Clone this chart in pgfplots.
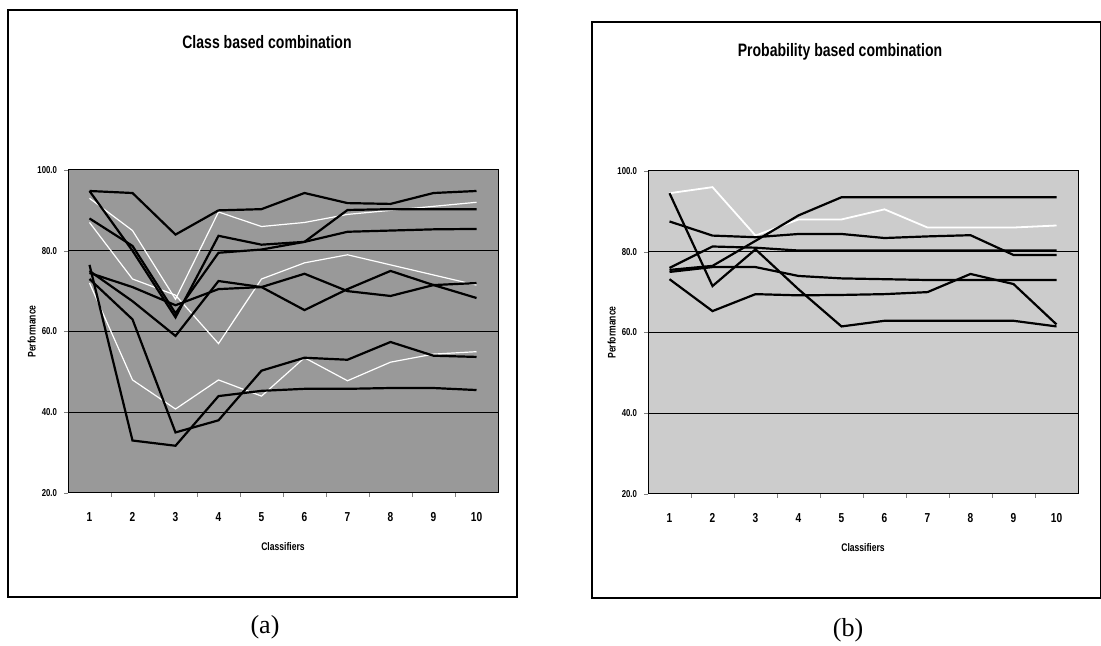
\documentclass[border=0pt]{standalone}
\usepackage{pgfplots}
\pgfplotsset{compat=1.18}
\usepackage{fontspec}
\setmainfont{Liberation Sans}
\newfontfamily\narrow[FakeStretch=0.78]{Liberation Sans}
\newfontfamily\serif{Liberation Serif}

% class based combination (a)
\pgfplotstableread{
x  A    B    C    D    E    X    Y    W1   W2   W3
1  94.8 94.8 88.0 76.5 73.0 74.5 75.0 93.0 87.0 72.0
2  94.3 80.0 81.2 33.0 63.0 71.0 67.5 85.0 73.0 48.0
3  84.0 63.5 64.5 31.7 35.0 66.5 58.9 68.0 69.0 40.8
4  90.0 83.7 79.5 44.0 38.0 70.5 72.5 89.6 57.0 48.0
5  90.3 81.5 80.3 45.3 50.3 71.0 71.0 86.0 73.0 44.0
6  94.3 82.2 82.2 45.8 53.5 74.3 65.3 87.0 77.0 53.5
7  91.8 90.1 84.7 45.8 53.0 70.0 70.5 89.0 79.0 47.8
8  91.6 90.3 85.0 46.0 57.4 68.8 75.0 90.0 76.5 52.4
9  94.3 90.3 85.3 46.0 54.0 71.5 71.5 91.0 74.0 54.4
10 94.8 90.3 85.4 45.5 53.7 72.0 68.3 92.0 71.5 55.0
}\classdata

% probability based combination (b)
\pgfplotstableread{
x  R1   R2   R3   R4   R5   R6   R7
1  94.5 73.2 75.0 87.5 75.5 76.0 94.5
2  71.5 65.3 76.2 84.0 76.5 81.3 96.0
3  80.6 69.5 76.2 83.6 82.7 81.0 84.0
4  70.7 69.2 74.0 84.4 89.0 80.3 88.0
5  61.5 69.3 73.4 84.4 93.5 80.3 88.0
6  62.9 69.5 73.2 83.4 93.5 80.3 90.5
7  62.9 70.0 73.0 83.8 93.5 80.3 86.0
8  62.9 74.5 73.0 84.1 93.5 80.3 86.0
9  62.9 72.0 73.0 79.2 93.5 80.3 86.0
10 61.5 62.0 73.0 79.2 93.5 80.3 86.5
}\probdata

\pgfplotsset{
  panel/.style={
    anchor=south west, scale only axis,
    width=215pt, height=161.5pt,
    xmin=0.5, xmax=10.5, ymin=20, ymax=100,
    xtick={1,...,10},
    minor xtick={1.5,2.5,...,9.5},
    ytick={20,40,...,100},
    tick align=outside, tick pos=left,
    major x tick style={draw=none},
    minor tick length=2pt, major tick length=2pt,
    ymajorgrids, grid style={black, line width=0.5pt},
    axis line style={black, line width=0.5pt},
    /pgf/number format/assume math mode=true,
    yticklabel style={/pgf/number format/.cd, fixed, fixed zerofill, precision=1},
    tick label style={font=\narrow\bfseries\fontsize{5}{6}\selectfont},
    xticklabel style={font=\narrow\bfseries\fontsize{6.5}{7}\selectfont, yshift=-4pt},
    ylabel={Performance}, xlabel={Classifiers},
    label style={font=\narrow\bfseries\fontsize{5.5}{6}\selectfont},
    xlabel style={yshift=-4pt},
    ylabel style={yshift=-6pt},
    blk/.style={black, line width=1.1pt},
    wht/.style={white, line width=0.6pt},
  },
}

\begin{document}
\begin{tikzpicture}
\useasboundingbox (0,0) rectangle (550.5pt,323pt);
\fill[white] (0,0) rectangle (550.5pt,323pt);
\begin{scope}[x=0.5pt, y=-0.5pt, yshift=323pt]
\draw[line width=0.6pt] (8,10) rectangle (517,597);
\draw[line width=0.6pt] (592,22) rectangle (1100.5,598);
\node[font=\narrow\bfseries\fontsize{9}{10}\selectfont] at (267,42) {Class based combination};
\node[font=\narrow\bfseries\fontsize{9}{10}\selectfont] at (840,52) {Probability based combination};
\node[font=\serif\fontsize{13}{14}\selectfont] at (265,627) {(a)};
\node[font=\serif\fontsize{13}{14}\selectfont] at (848,630) {(b)};
\end{scope}

\begin{axis}[panel, at={(34pt,76.5pt)}, axis background/.style={fill=black!40}]
\foreach \c in {W1,W2,W3} {\addplot[wht] table[x=x, y=\c] {\classdata};}
\foreach \c in {A,B,C,D,E,X,Y} {\addplot[blk] table[x=x, y=\c] {\classdata};}
\end{axis}

\begin{axis}[panel, at={(324pt,76pt)}, axis background/.style={fill=black!20}]
\foreach \c in {R7} {\addplot[wht, line width=0.9pt] table[x=x, y=\c] {\probdata};}
\foreach \c in {R1,R2,R3,R4,R5,R6} {\addplot[blk] table[x=x, y=\c] {\probdata};}
\end{axis}
\end{tikzpicture}
\end{document}
